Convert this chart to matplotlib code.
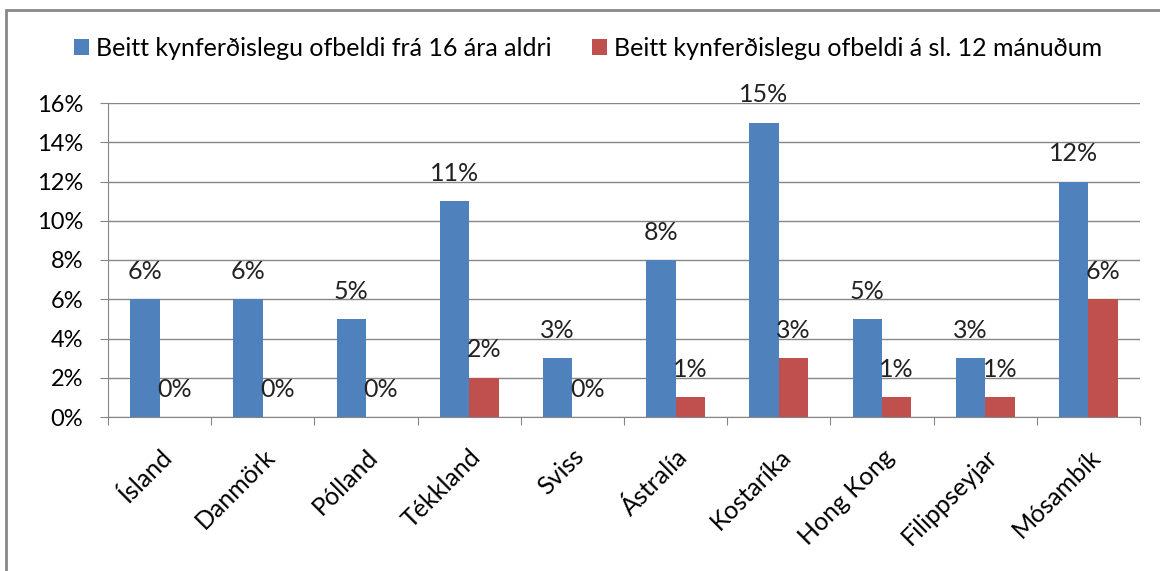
import matplotlib.pyplot as plt
from matplotlib.patches import Rectangle
from matplotlib.transforms import ScaledTranslation
import numpy as np

plt.rcParams['font.family'] = ['Lato', 'DejaVu Sans']

countries = ["Ísland", "Danmörk", "Pólland", "Tékkland", "Sviss",
             "Ástralía", "Kostaríka", "Hong Kong", "Filippseyjar", "Mósambík"]
since16 = [6, 6, 5, 11, 3, 8, 15, 5, 3, 12]
last12 = [0, 0, 0, 2, 0, 1, 3, 1, 1, 6]
series_names = ["Beitt kynferðislegu ofbeldi frá 16 ára aldri",
                "Beitt kynferðislegu ofbeldi á sl. 12 mánuðum"]
colors = ["#4F81BD", "#C0504D"]
grey = "#868686"

fig = plt.figure(figsize=(11.6, 5.71), dpi=100)
ax = fig.add_axes([108 / 1160, 1 - 417 / 571, 1032 / 1160, 314 / 571])

x = np.arange(len(countries))
w = 1 / 3.5  # Excel gap width 150%
for i, (vals, c) in enumerate(zip([since16, last12], colors)):
    pos = x + (i - 0.5) * w
    ax.bar(pos, vals, width=w, color=c, label=series_names[i], zorder=2)
    for px, v in zip(pos, vals):
        ax.annotate(f"{v}%", (px, v), xytext=(0, 20), textcoords="offset points",
                    ha="center", va="center", fontsize=18, color="#222222", zorder=3)

ax.set_xlim(-0.5, len(countries) - 0.5)
ax.set_ylim(0, 16)
ax.set_yticks(range(0, 17, 2))
ax.set_yticklabels([f"{t}%" for t in range(0, 17, 2)], fontsize=17)
ax.yaxis.grid(True, color=grey, linewidth=1)
ax.set_axisbelow(True)

ax.set_xticks(np.arange(-0.5, len(countries), 1))
ax.set_xticklabels([])
ax.set_xticks(x, minor=True)
ax.set_xticklabels(countries, minor=True, rotation=45, ha="right",
                   rotation_mode="anchor", fontsize=18)
shift = ScaledTranslation(-12 / 100, 0, fig.dpi_scale_trans)
for lab in ax.get_xticklabels(minor=True):
    lab.set_transform(lab.get_transform() + shift)
ax.tick_params(axis="x", which="minor", length=0, pad=20)
ax.tick_params(axis="x", which="major", length=6, color=grey)
ax.tick_params(axis="y", length=6, color=grey, pad=12)

for s in ["top", "right"]:
    ax.spines[s].set_visible(False)
for s in ["left", "bottom"]:
    ax.spines[s].set_color(grey)

h, l = ax.get_legend_handles_labels()
fig.legend(h, l, loc="center", bbox_to_anchor=(0.507, 1 - 48 / 571), ncol=2,
           frameon=False, fontsize=18, handlelength=0.6, handleheight=0.6,
           handletextpad=0.3, columnspacing=1.6)

fig.patches.append(Rectangle((6 / 1160, -0.1), 1.2, 1 - 10 / 571 + 0.1,
                             transform=fig.transFigure, fill=False,
                             edgecolor="#888888", linewidth=2))

fig.savefig("out.png", dpi=100)
